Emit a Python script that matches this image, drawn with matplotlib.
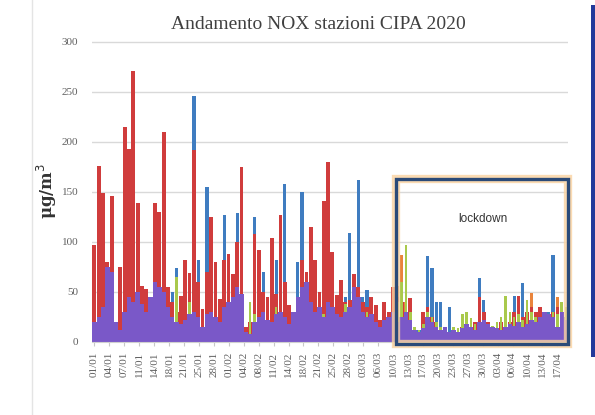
import matplotlib
matplotlib.use("Agg")
import matplotlib.pyplot as plt
from matplotlib.patches import Rectangle
import numpy as np

# daily NOx values (µg/m3), 01/01 -> 19/04, one list per station
blue = [30, 50, 45, 60, 40, 15, 20, 40, 50, 60,
        45, 40, 35, 30, 40, 45, 50, 30, 50, 74,
        25, 40, 45, 246, 82, 20, 155, 60, 40, 30,
        127, 50, 40, 129, 60, 12, 15, 125, 45, 70,
        30, 40, 82, 60, 158, 25, 20, 80, 150, 60,
        50, 40, 35, 40, 60, 40, 30, 35, 45, 109,
        40, 162, 45, 52, 40, 30, 20, 35, 25, 30,
        30, 25, 20, 35, 10, 12, 20, 86, 74, 40,
        40, 15, 35, 12, 10, 12, 15, 14, 18, 64,
        42, 20, 15, 12, 15, 20, 18, 46, 35, 59,
        30, 25, 20, 28, 22, 30, 87, 35, 30, 25]
orange = [15, 30, 30, 25, 20, 8, 12, 25, 30, 35,
          30, 25, 20, 25, 35, 30, 25, 20, 15, 20,
          12, 25, 30, 50, 30, 12, 25, 35, 30, 20,
          25, 30, 35, 45, 50, 8, 10, 25, 35, 30,
          20, 25, 35, 120, 30, 15, 12, 25, 35, 30,
          35, 25, 20, 30, 50, 35, 20, 15, 25, 30,
          40, 35, 25, 20, 18, 12, 10, 15, 18, 22,
          56, 87, 40, 30, 10, 8, 12, 20, 18, 15,
          10, 8, 10, 8, 8, 10, 12, 10, 12, 25,
          20, 12, 10, 10, 12, 15, 14, 20, 25, 18,
          25, 49, 20, 18, 15, 20, 25, 45, 30, 25]
red = [97, 176, 149, 80, 146, 18, 75, 215, 193, 271,
       139, 56, 53, 45, 139, 130, 210, 55, 40, 30,
       46, 82, 69, 192, 60, 33, 70, 125, 80, 43,
       82, 88, 68, 100, 175, 15, 20, 108, 92, 50,
       45, 104, 48, 127, 60, 37, 22, 40, 82, 70,
       115, 82, 50, 141, 180, 90, 47, 62, 40, 42,
       68, 55, 40, 35, 45, 37, 22, 40, 30, 55,
       45, 40, 30, 44, 12, 10, 30, 35, 25, 20,
       12, 15, 10, 12, 8, 15, 10, 12, 20, 45,
       30, 20, 15, 12, 20, 25, 20, 30, 46, 25,
       30, 35, 30, 35, 20, 25, 30, 35, 25, 20]
green = [15, 20, 25, 55, 30, 10, 12, 25, 30, 28,
         30, 25, 20, 25, 30, 35, 30, 20, 25, 65,
         15, 20, 40, 30, 20, 12, 25, 30, 22, 18,
         25, 30, 35, 45, 30, 10, 40, 28, 25, 30,
         20, 18, 35, 25, 20, 15, 25, 35, 40, 30,
         25, 20, 30, 28, 35, 30, 25, 20, 38, 30,
         35, 30, 25, 30, 28, 20, 15, 20, 18, 25,
         40, 60, 97, 30, 15, 12, 18, 30, 25, 20,
         15, 12, 10, 15, 14, 28, 30, 24, 18, 20,
         22, 18, 16, 20, 25, 46, 30, 25, 28, 22,
         42, 30, 25, 20, 18, 25, 30, 28, 40, 35]
purple = [20, 25, 35, 75, 70, 20, 12, 30, 45, 40,
          50, 38, 30, 45, 60, 55, 50, 35, 25, 20,
          18, 22, 28, 30, 25, 15, 28, 30, 25, 20,
          35, 40, 45, 55, 48, 10, 8, 20, 25, 30,
          22, 20, 28, 30, 25, 18, 30, 45, 55, 60,
          40, 30, 35, 25, 40, 35, 28, 25, 30, 35,
          55, 45, 30, 25, 28, 20, 15, 22, 25, 30,
          20, 25, 30, 22, 12, 10, 14, 25, 20, 15,
          12, 15, 10, 12, 10, 14, 18, 15, 12, 20,
          22, 18, 15, 14, 12, 15, 18, 16, 20, 15,
          18, 22, 20, 25, 30, 28, 25, 15, 30, 22]

tick_labels = ['01/01', '04/01', '07/01', '11/01', '14/01', '18/01', '21/01', '25/01',
               '28/01', '01/02', '04/02', '08/02', '11/02', '14/02', '18/02', '21/02',
               '25/02', '28/02', '03/03', '06/03', '10/03', '13/03', '17/03', '20/03',
               '23/03', '27/03', '30/03', '03/04', '06/04', '10/04', '13/04', '17/04']

days = np.arange(len(red))

fig = plt.figure(figsize=(5.95, 4.15), dpi=100)
ax = fig.add_axes([0.155, 0.176, 0.800, 0.728])

series = [(blue, '#3f7cc0', 0.75), (orange, '#e9843c', 0.7), (red, '#d03c3c', 0.88),
          (green, '#a9c94c', 0.6), (purple, '#7a58c8', 1.02)]
for vals, col, w in series:
    ax.bar(days, vals, width=w, color=col, linewidth=0, zorder=2)

ax.set_xlim(-0.5, len(days) - 0.5)
ax.set_ylim(0, 302)
ax.set_yticks([0, 50, 100, 150, 200, 250, 300])
ax.yaxis.grid(True, color='#d9d9d9', linewidth=1)
ax.set_axisbelow(True)
for s in ['top', 'right', 'left']:
    ax.spines[s].set_visible(False)
ax.spines['bottom'].set_color('#d0d0d0')

ax.set_xticks(np.linspace(0, 107, len(tick_labels)))
ax.set_xticklabels(tick_labels, rotation=90, family='Liberation Serif',
                   fontsize=8, color='#606060')
ax.tick_params(axis='x', length=3, color='#c8c8c8', pad=4)
ax.tick_params(axis='y', length=0, pad=10, labelsize=8, labelcolor='#606060')
for t in ax.get_yticklabels():
    t.set_family('Liberation Serif')

ax.set_ylabel('μg/m$^3$', family='DejaVu Serif', fontweight='bold', fontsize=12,
              color='#333333', labelpad=2)

fig.text(0.535, 0.94, 'Andamento NOX stazioni CIPA 2020', ha='center', va='center',
         family='Liberation Serif', fontsize=14, color='#404040')

# lockdown frame
glow = Rectangle((69.8, -2), 39.6, 165, fill=False, edgecolor='#fbd3a0',
                 linewidth=6, alpha=0.8, clip_on=False, zorder=4)
frame = Rectangle((69.8, -2), 39.6, 165, fill=False, edgecolor='#2b4a78',
                  linewidth=2.4, clip_on=False, zorder=5)
ax.add_patch(glow)
ax.add_patch(frame)
ax.text(89.8, 123, 'lockdown', ha='center', va='center', fontsize=8.5,
        family='Liberation Sans', color='#333333', zorder=6)

# faint chart border and blue side bar
fig.add_artist(plt.Line2D([32 / 595, 32 / 595], [0, 1], color='#e4e4e4', linewidth=1))
fig.add_artist(Rectangle((591 / 595, 1 - 357 / 415), 4 / 595, 352 / 415,
                         facecolor='#23399a', edgecolor='none'))

fig.savefig('out.png', dpi=100)
